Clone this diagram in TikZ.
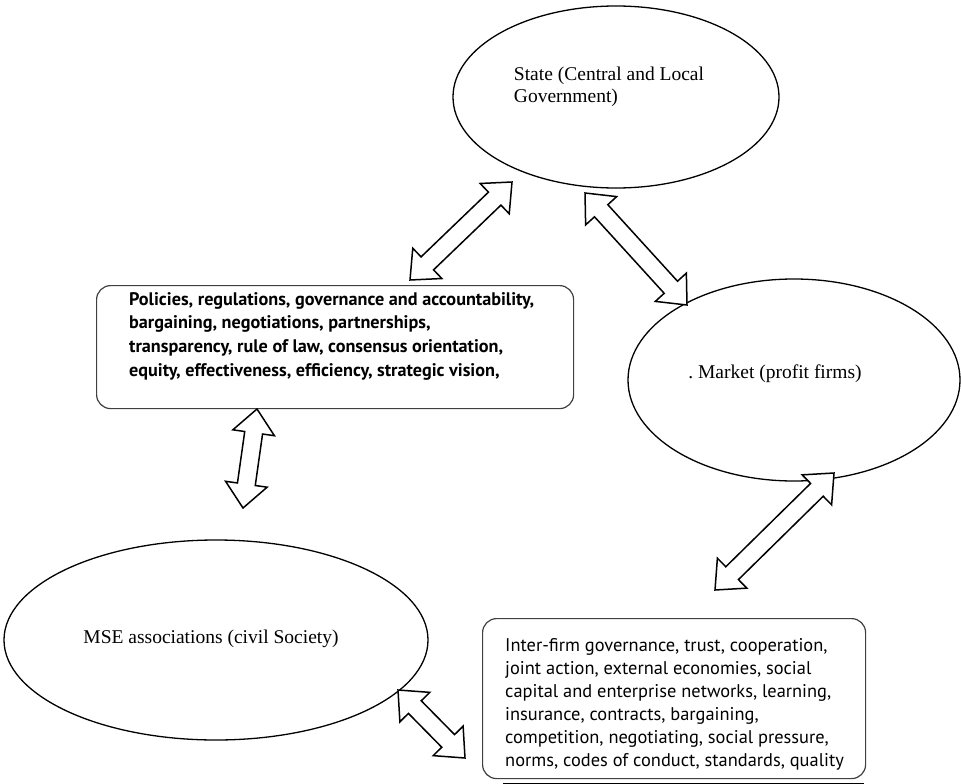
\documentclass[tikz,border=0pt]{standalone}
\usepackage{fontspec}
\setmainfont{Liberation Serif}
\newfontfamily\boxfont{PT Sans}
\usetikzlibrary{shapes.geometric,calc}

% hollow two-headed block arrow between two points
\newcommand{\twoway}[2]{%
  \draw[twoway] (#1)
    -- ($(#1)!24pt!(#2)!21pt!90:(#2)$)
    -- ($(#1)!24pt!(#2)!9pt!90:(#2)$)
    -- ($(#2)!24pt!(#1)!9pt!-90:(#1)$)
    -- ($(#2)!24pt!(#1)!21pt!-90:(#1)$)
    -- (#2)
    -- ($(#2)!24pt!(#1)!21pt!90:(#1)$)
    -- ($(#2)!24pt!(#1)!9pt!90:(#1)$)
    -- ($(#1)!24pt!(#2)!9pt!-90:(#2)$)
    -- ($(#1)!24pt!(#2)!21pt!-90:(#2)$)
    -- cycle;}

\begin{document}
\begin{tikzpicture}[x=1pt,y=-1pt,
  actor/.style={draw, ellipse, line width=1.3pt, inner sep=0pt},
  actortext/.style={inner sep=0pt, align=left, font=\fontsize{19.5}{22}\selectfont},
  frame/.style={draw=black!75, line width=1.2pt, rounded corners=14pt, inner sep=0pt, anchor=north west},
  boxtext/.style={anchor=north west, inner sep=0pt, align=left, font=\boxfont\fontsize{18.4}{23}\selectfont},
  twoway/.style={draw, fill=white, line width=1.5pt, line join=miter}]
\useasboundingbox (0,0) rectangle (961,784);

\node[actor, minimum width=326pt, minimum height=182pt] (state) at (616,97) {};
\node[actortext] (statetext) at (609,87) {State (Central and Local\\Government)};
\node[actor, minimum width=332pt, minimum height=202pt] (market) at (794,380) {};
\node[actortext] (markettext) at (775,374) {.\ Market (profit firms)};
\node[actor, minimum width=424pt, minimum height=200pt] (mse) at (216,640) {};
\node[actortext] (msetext) at (211,639) {MSE associations (civil Society)};

\node[frame, minimum width=477pt, minimum height=123pt] (policy) at (96,285) {};
\node[boxtext, font=\boxfont\bfseries\fontsize{18.2}{23.7}\selectfont] (policytext) at (129,292) {Policies, regulations, governance and accountability,\\bargaining, negotiations, partnerships,\\transparency, rule of law, consensus orientation,\\equity, effectiveness, efficiency, strategic vision,};

\node[frame, minimum width=383pt, minimum height=160pt] (interfirm) at (482,618) {};
\node[boxtext] (interfirmtext) at (505,638) {Inter-firm governance, trust, cooperation,\\joint action, external economies, social\\capital and enterprise networks, learning,\\insurance, contracts, bargaining,\\competition, negotiating, social pressure,\\norms, codes of conduct, standards, quality};
\draw[line width=3pt] ($(interfirm.south west)+(21,5)$) -- ($(interfirm.south east)+(-2,5)$);

% arrow ends
\coordinate (p1) at (410,280);
\coordinate (s1) at (512,182);
\coordinate (s2) at (585,193);
\coordinate (m2) at (687,305);
\coordinate (p3) at (257,409);
\coordinate (e3) at (243,508);
\coordinate (m4) at (834,473);
\coordinate (f4) at (715,590);
\coordinate (e5) at (398,690);
\coordinate (f5) at (465,758);

\twoway{p1}{s1}
\twoway{s2}{m2}
\twoway{p3}{e3}
\twoway{m4}{f4}
\twoway{e5}{f5}
\end{tikzpicture}
\end{document}
